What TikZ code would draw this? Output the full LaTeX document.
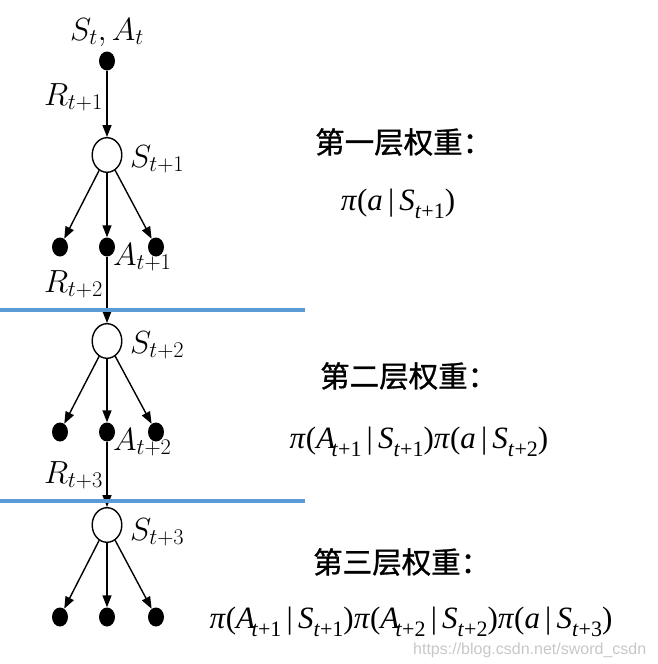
\RequirePackage{fix-cm}
\documentclass[tikz,border=0pt]{standalone}
\usepackage{fontspec}
\usetikzlibrary{arrows.meta,shapes.geometric}
\newfontfamily\tnr{Liberation Serif}
\newfontfamily\cjk[FakeBold=1]{Noto Sans CJK SC}
\newfontfamily\wmfont{Liberation Sans}
\newcommand\sbs[1]{\raisebox{-0.26em}{\fontsize{22}{22}\selectfont #1}}
\definecolor{lineblue}{RGB}{91,155,213}
\tikzset{
  dot/.style={ellipse, fill=black, draw=none, minimum width=16pt, minimum height=19pt, inner sep=0pt},
  st/.style={ellipse, draw=black, line width=1.4pt, fill=white, minimum width=29.6pt, minimum height=34.6pt, inner sep=0pt},
  arr/.style={line width=1.4pt, -{Triangle[length=12pt,width=9pt]}},
  lab/.style={font=\fontsize{32}{36}\selectfont, inner sep=0pt},
  cn/.style={font=\cjk\fontsize{29.5}{32}\selectfont, inner sep=0pt, anchor=west},
  fml/.style={font=\tnr\fontsize{31}{34}\selectfont, inner sep=0pt, anchor=base},
  sep/.style={line width=4pt, lineblue},
}
\begin{document}
\begin{tikzpicture}[x=1pt,y=-1pt]
\useasboundingbox (0,0) rectangle (657,664);
% tree
\node[dot] (d0) at (107,61) {};
\node[st] (s1) at (107,155) {};
\node[dot] (d1a) at (60,247) {};
\node[dot] (d1b) at (107,247) {};
\node[dot] (d1c) at (156,247) {};
\node[st] (s2) at (107,341) {};
\node[dot] (d2a) at (60,432) {};
\node[dot] (d2b) at (107,432) {};
\node[dot] (d2c) at (156,432) {};
\node[st] (s3) at (107,525) {};
\node[dot] (d3a) at (60,617) {};
\node[dot] (d3b) at (107,617) {};
\node[dot] (d3c) at (156,617) {};
\draw[arr] (d0) -- (s1);
\draw[arr] (s1) -- (d1a);
\draw[arr] (s1) -- (d1b);
\draw[arr] (s1) -- (d1c);
\draw[arr] (d1b) -- (s2);
\draw[arr] (s2) -- (d2a);
\draw[arr] (s2) -- (d2b);
\draw[arr] (s2) -- (d2c);
\draw[arr] (d2b) -- (s3);
\draw[arr] (s3) -- (d3a);
\draw[arr] (s3) -- (d3b);
\draw[arr] (s3) -- (d3c);
% separators
\coordinate (l1a) at (0,310); \coordinate (l1b) at (305,310);
\coordinate (l2a) at (0,501); \coordinate (l2b) at (305,501);
\draw[sep] (l1a) -- (l1b);
\draw[sep] (l2a) -- (l2b);
% tree labels
\node[lab, anchor=base] (t0) at (107,40) {$S_t, A_t$};
\node[lab, anchor=base east] (r1) at (103,105) {$R_{t+1}$};
\node[lab, anchor=base west] (ls1) at (130,167) {$S_{t+1}$};
\node[lab, anchor=base west] (a1) at (113,265) {$A_{t+1}$};
\node[lab, anchor=base east] (r2) at (103,292) {$R_{t+2}$};
\node[lab, anchor=base west] (ls2) at (130,353) {$S_{t+2}$};
\node[lab, anchor=base west] (a2) at (113,450) {$A_{t+2}$};
\node[lab, anchor=base east] (r3) at (103,483) {$R_{t+3}$};
\node[lab, anchor=base west] (ls3) at (130,540) {$S_{t+3}$};
% weights
\node[cn] (w1) at (315,142) {第一层权重：};
\node[fml] (f1) at (398,210) {\textit{π}(\textit{a}\,|\,\textit{S}\sbs{\textit{t}+1})};
\node[cn] (w2) at (320,376) {第二层权重：};
\node[fml] (f2) at (419,448) {\textit{π}(\textit{A}\kern-0.12em\sbs{\textit{t}+1}\,|\,\textit{S}\sbs{\textit{t}+1})\textit{π}(\textit{a}\,|\,\textit{S}\sbs{\textit{t}+2})};
\node[cn] (w3) at (313,562) {第三层权重：};
\node[fml] (f3) at (411,628) {\textit{π}(\textit{A}\kern-0.12em\sbs{\textit{t}+1}\,|\,\textit{S}\sbs{\textit{t}+1})\textit{π}(\textit{A}\kern-0.12em\sbs{\textit{t}+2}\,|\,\textit{S}\sbs{\textit{t}+2})\textit{π}(\textit{a}\,|\,\textit{S}\sbs{\textit{t}+3})};
\node[font=\wmfont\fontsize{16}{18}\selectfont, text=black!22, inner sep=0pt, anchor=west] (wm) at (413,650) {https://blog.csdn.net/sword\_csdn};
\end{tikzpicture}
\end{document}
